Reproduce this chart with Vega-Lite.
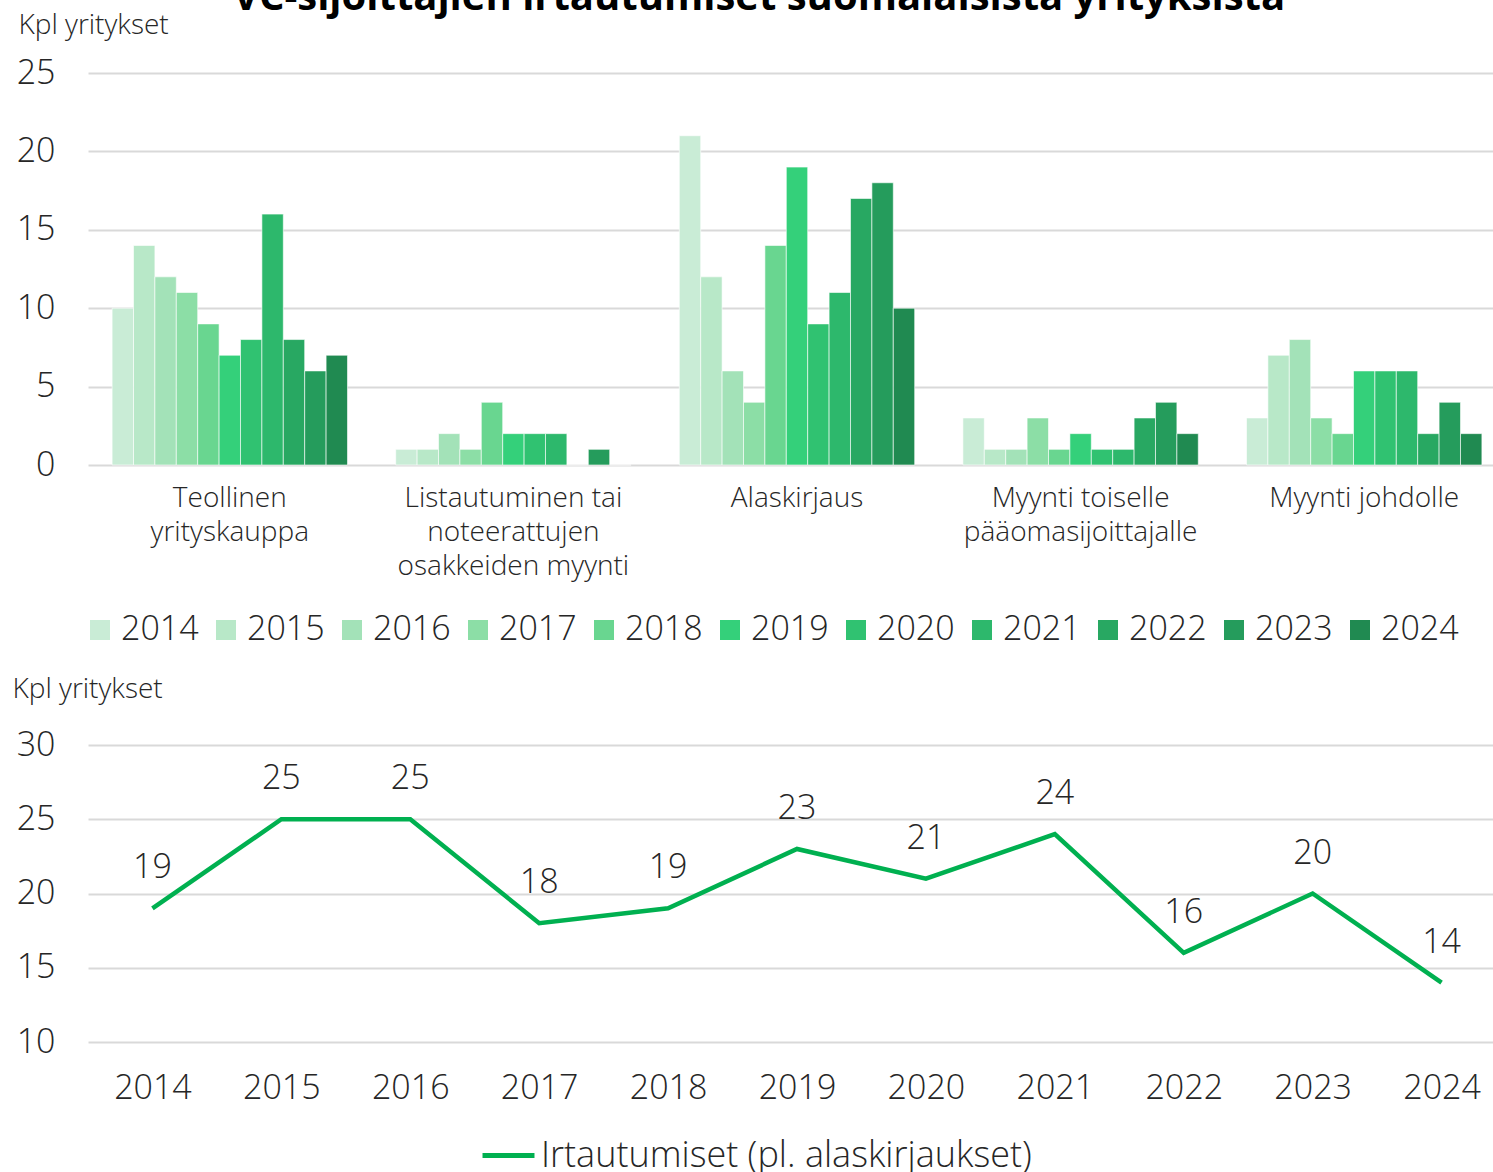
{
  "$schema": "https://vega.github.io/schema/vega-lite/v6.json",
  "padding": {"left": 12, "top": -22, "right": 0, "bottom": 0},
  "background": "white",
  "title": {"text": "VC-sijoittajien irtautumiset suomalaisista yrityksistä", "fontSize": 40, "font": "Open Sans", "fontWeight": "bold", "color": "#000000", "anchor": "middle", "offset": -7},
  "config": {
    "font": "Open Sans",
    "view": {"stroke": null},
    "axis": {"labelColor": "#262626", "titleColor": "#262626", "labelFont": "Open Sans", "titleFont": "Open Sans", "labelFontWeight": 300, "titleFontWeight": 300, "ticks": false, "gridColor": "#d9d9d9", "gridWidth": 2, "labelLimit": 1000},
    "legend": {"labelColor": "#262626", "labelFont": "Open Sans", "labelFontWeight": 300, "labelLimit": 1000}
  },
  "bounds": "flush",
  "spacing": 280,
  "resolve": {"scale": {"color": "independent", "stroke": "independent", "x": "independent", "y": "independent"}, "legend": {"color": "independent", "stroke": "independent"}},
  "vconcat": [
    {
      "width": 1418,
      "height": 392,
      "data": {"values": [
        {"kategoria": "Teollinen yrityskauppa", "vuosi": "2014", "arvo": 10},
        {"kategoria": "Teollinen yrityskauppa", "vuosi": "2015", "arvo": 14},
        {"kategoria": "Teollinen yrityskauppa", "vuosi": "2016", "arvo": 12},
        {"kategoria": "Teollinen yrityskauppa", "vuosi": "2017", "arvo": 11},
        {"kategoria": "Teollinen yrityskauppa", "vuosi": "2018", "arvo": 9},
        {"kategoria": "Teollinen yrityskauppa", "vuosi": "2019", "arvo": 7},
        {"kategoria": "Teollinen yrityskauppa", "vuosi": "2020", "arvo": 8},
        {"kategoria": "Teollinen yrityskauppa", "vuosi": "2021", "arvo": 16},
        {"kategoria": "Teollinen yrityskauppa", "vuosi": "2022", "arvo": 8},
        {"kategoria": "Teollinen yrityskauppa", "vuosi": "2023", "arvo": 6},
        {"kategoria": "Teollinen yrityskauppa", "vuosi": "2024", "arvo": 7},
        {"kategoria": "Listautuminen tai noteerattujen osakkeiden myynti", "vuosi": "2014", "arvo": 1},
        {"kategoria": "Listautuminen tai noteerattujen osakkeiden myynti", "vuosi": "2015", "arvo": 1},
        {"kategoria": "Listautuminen tai noteerattujen osakkeiden myynti", "vuosi": "2016", "arvo": 2},
        {"kategoria": "Listautuminen tai noteerattujen osakkeiden myynti", "vuosi": "2017", "arvo": 1},
        {"kategoria": "Listautuminen tai noteerattujen osakkeiden myynti", "vuosi": "2018", "arvo": 4},
        {"kategoria": "Listautuminen tai noteerattujen osakkeiden myynti", "vuosi": "2019", "arvo": 2},
        {"kategoria": "Listautuminen tai noteerattujen osakkeiden myynti", "vuosi": "2020", "arvo": 2},
        {"kategoria": "Listautuminen tai noteerattujen osakkeiden myynti", "vuosi": "2021", "arvo": 2},
        {"kategoria": "Listautuminen tai noteerattujen osakkeiden myynti", "vuosi": "2022", "arvo": 0},
        {"kategoria": "Listautuminen tai noteerattujen osakkeiden myynti", "vuosi": "2023", "arvo": 1},
        {"kategoria": "Listautuminen tai noteerattujen osakkeiden myynti", "vuosi": "2024", "arvo": 0},
        {"kategoria": "Alaskirjaus", "vuosi": "2014", "arvo": 21},
        {"kategoria": "Alaskirjaus", "vuosi": "2015", "arvo": 12},
        {"kategoria": "Alaskirjaus", "vuosi": "2016", "arvo": 6},
        {"kategoria": "Alaskirjaus", "vuosi": "2017", "arvo": 4},
        {"kategoria": "Alaskirjaus", "vuosi": "2018", "arvo": 14},
        {"kategoria": "Alaskirjaus", "vuosi": "2019", "arvo": 19},
        {"kategoria": "Alaskirjaus", "vuosi": "2020", "arvo": 9},
        {"kategoria": "Alaskirjaus", "vuosi": "2021", "arvo": 11},
        {"kategoria": "Alaskirjaus", "vuosi": "2022", "arvo": 17},
        {"kategoria": "Alaskirjaus", "vuosi": "2023", "arvo": 18},
        {"kategoria": "Alaskirjaus", "vuosi": "2024", "arvo": 10},
        {"kategoria": "Myynti toiselle pääomasijoittajalle", "vuosi": "2014", "arvo": 3},
        {"kategoria": "Myynti toiselle pääomasijoittajalle", "vuosi": "2015", "arvo": 1},
        {"kategoria": "Myynti toiselle pääomasijoittajalle", "vuosi": "2016", "arvo": 1},
        {"kategoria": "Myynti toiselle pääomasijoittajalle", "vuosi": "2017", "arvo": 3},
        {"kategoria": "Myynti toiselle pääomasijoittajalle", "vuosi": "2018", "arvo": 1},
        {"kategoria": "Myynti toiselle pääomasijoittajalle", "vuosi": "2019", "arvo": 2},
        {"kategoria": "Myynti toiselle pääomasijoittajalle", "vuosi": "2020", "arvo": 1},
        {"kategoria": "Myynti toiselle pääomasijoittajalle", "vuosi": "2021", "arvo": 1},
        {"kategoria": "Myynti toiselle pääomasijoittajalle", "vuosi": "2022", "arvo": 3},
        {"kategoria": "Myynti toiselle pääomasijoittajalle", "vuosi": "2023", "arvo": 4},
        {"kategoria": "Myynti toiselle pääomasijoittajalle", "vuosi": "2024", "arvo": 2},
        {"kategoria": "Myynti johdolle", "vuosi": "2014", "arvo": 3},
        {"kategoria": "Myynti johdolle", "vuosi": "2015", "arvo": 7},
        {"kategoria": "Myynti johdolle", "vuosi": "2016", "arvo": 8},
        {"kategoria": "Myynti johdolle", "vuosi": "2017", "arvo": 3},
        {"kategoria": "Myynti johdolle", "vuosi": "2018", "arvo": 2},
        {"kategoria": "Myynti johdolle", "vuosi": "2019", "arvo": 6},
        {"kategoria": "Myynti johdolle", "vuosi": "2020", "arvo": 6},
        {"kategoria": "Myynti johdolle", "vuosi": "2021", "arvo": 6},
        {"kategoria": "Myynti johdolle", "vuosi": "2022", "arvo": 2},
        {"kategoria": "Myynti johdolle", "vuosi": "2023", "arvo": 4},
        {"kategoria": "Myynti johdolle", "vuosi": "2024", "arvo": 2}
      ]},
      "mark": {"type": "bar", "stroke": "white", "strokeWidth": 1, "strokeOpacity": 0.6},
      "encoding": {
        "x": {
          "field": "kategoria", "type": "nominal",
          "sort": ["Teollinen yrityskauppa", "Listautuminen tai noteerattujen osakkeiden myynti", "Alaskirjaus", "Myynti toiselle pääomasijoittajalle", "Myynti johdolle"],
          "scale": {"paddingInner": 0.17, "paddingOuter": 0.085},
          "axis": {
            "title": null, "labelAngle": 0, "labelFontSize": 28, "labelLineHeight": 34, "labelPadding": 19, "domain": false, "grid": false, "labelBaseline": "top",
            "labelExpr": "datum.value == 'Teollinen yrityskauppa' ? ['Teollinen', 'yrityskauppa'] : datum.value == 'Listautuminen tai noteerattujen osakkeiden myynti' ? ['Listautuminen tai', 'noteerattujen', 'osakkeiden myynti'] : datum.value == 'Myynti toiselle pääomasijoittajalle' ? ['Myynti toiselle', 'pääomasijoittajalle'] : datum.value"
          }
        },
        "xOffset": {"field": "vuosi", "type": "nominal"},
        "y": {
          "field": "arvo", "type": "quantitative",
          "scale": {"domain": [0, 25], "nice": false},
          "axis": {"values": [0, 5, 10, 15, 20, 25], "domain": false, "labelFontSize": 34, "labelPadding": 33, "title": "Kpl yritykset", "titleFontSize": 28, "titleAngle": 0, "titleAlign": "left", "titleBaseline": "middle", "titleX": -70, "titleY": -48}
        },
        "color": {
          "field": "vuosi", "type": "nominal",
          "scale": {
            "domain": ["2014", "2015", "2016", "2017", "2018", "2019", "2020", "2021", "2022", "2023", "2024"],
            "range": ["#c9ecd6", "#b8e8c8", "#a3e2b8", "#8cdea6", "#69d690", "#34d07a", "#30c271", "#2db86c", "#28a862", "#259c5c", "#208a51"]
          },
          "legend": {"title": null, "orient": "none", "legendX": -5, "legendY": 540, "direction": "horizontal", "columns": 11, "symbolType": "square", "symbolSize": 400, "symbolStrokeWidth": 0, "labelFontSize": 34, "labelOffset": 4, "columnPadding": 10}
        }
      }
    },
    {
      "width": 1418,
      "height": 297,
      "data": {"values": [
        {"vuosi": "2014", "arvo": 19},
        {"vuosi": "2015", "arvo": 25},
        {"vuosi": "2016", "arvo": 25},
        {"vuosi": "2017", "arvo": 18},
        {"vuosi": "2018", "arvo": 19},
        {"vuosi": "2019", "arvo": 23},
        {"vuosi": "2020", "arvo": 21},
        {"vuosi": "2021", "arvo": 24},
        {"vuosi": "2022", "arvo": 16},
        {"vuosi": "2023", "arvo": 20},
        {"vuosi": "2024", "arvo": 14}
      ]},
      "encoding": {
        "x": {
          "field": "vuosi", "type": "ordinal",
          "scale": {"type": "point", "padding": 0.5},
          "axis": {"title": null, "labelAngle": 0, "labelFontSize": 34, "labelPadding": 29, "domain": false, "grid": false}
        },
        "y": {
          "field": "arvo", "type": "quantitative",
          "scale": {"domain": [10, 30], "nice": false},
          "axis": {"values": [10, 15, 20, 25, 30], "domain": false, "labelFontSize": 34, "labelPadding": 33, "title": "Kpl yritykset", "titleFontSize": 28, "titleAngle": 0, "titleAlign": "left", "titleBaseline": "middle", "titleX": -76, "titleY": -56}
        }
      },
      "layer": [
        {
          "mark": {"type": "line", "strokeWidth": 4.5},
          "encoding": {
            "stroke": {
              "datum": "Irtautumiset (pl. alaskirjaukset)",
              "scale": {"range": ["#00b050"]},
              "legend": {"title": null, "orient": "none", "legendX": 392, "legendY": 382, "symbolType": "stroke", "symbolSize": 2700, "symbolStrokeWidth": 5, "labelFontSize": 36, "labelOffset": 4}
            }
          }
        },
        {
          "mark": {"type": "text", "dy": -40, "fontSize": 34, "fontWeight": 300, "color": "#262626", "baseline": "middle"},
          "encoding": {"text": {"field": "arvo", "type": "quantitative"}}
        }
      ]
    }
  ]
}
